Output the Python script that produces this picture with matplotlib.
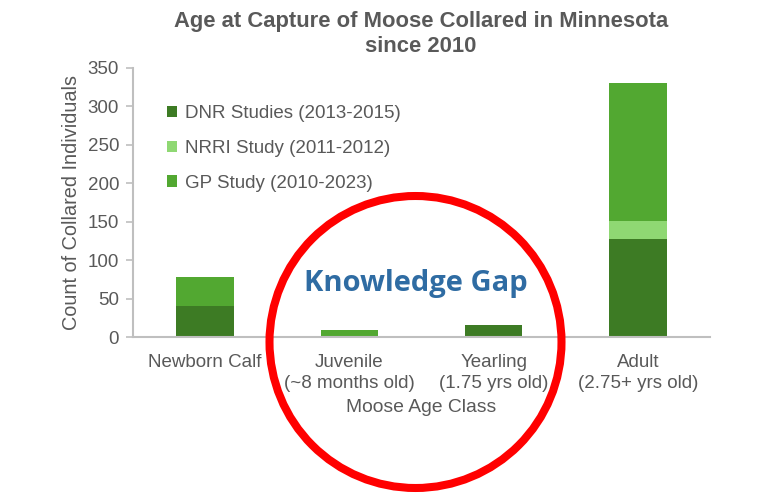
import matplotlib
matplotlib.use("Agg")
import matplotlib.pyplot as plt
from matplotlib.patches import Ellipse
import numpy as np

categories = ["Newborn Calf", "Juvenile\n(~8 months old)", "Yearling\n(1.75 yrs old)", "Adult\n(2.75+ yrs old)"]
dnr = [40, 0, 16, 128]
nrri = [0, 0, 0, 23]
gp = [38, 9, 0, 179]
series_names = ["DNR Studies (2013-2015)", "NRRI Study (2011-2012)", "GP Study (2010-2023)"]
colors = ["#3d7b24", "#8fd873", "#52a831"]
yticks = [0, 50, 100, 150, 200, 250, 300, 350]

plt.rcParams['font.family'] = ['Liberation Sans', 'DejaVu Sans']
gray = "#595959"

fig = plt.figure(figsize=(7.67, 4.95), dpi=100)
ax = fig.add_axes([133/767, 1-337/495, 577/767, 269/495])

x = np.arange(len(categories))
w = 0.4
bottom = np.zeros(len(categories))
for vals, name, c in zip([dnr, nrri, gp], series_names, colors):
    ax.bar(x, vals, w, bottom=bottom, color=c, label=name, zorder=2)
    bottom += np.array(vals)

ax.set_xlim(-0.5, 3.5)
ax.set_ylim(0, 350)
ax.set_yticks(yticks)
ax.set_xticks(x)
ax.set_xticklabels(categories, color=gray, fontsize=13.5, linespacing=1.3)
ax.tick_params(axis='y', colors="#bfbfbf", labelcolor=gray, labelsize=13.5, length=5, width=1.2, direction='out', pad=5)
ax.tick_params(axis='x', length=0, pad=12)
for s in ['top', 'right']:
    ax.spines[s].set_visible(False)
for s in ['left', 'bottom']:
    ax.spines[s].set_color("#bfbfbf")
    ax.spines[s].set_linewidth(1.5)

ax.set_ylabel("Count of Collared Individuals", color=gray, fontsize=14.3, labelpad=5)
ax.set_xlabel("Moose Age Class", color=gray, fontsize=13.9, labelpad=5)

fig.text(421/767, 1-22/495, "Age at Capture of Moose Collared in Minnesota", ha='center', va='center',
         fontsize=15.8, fontweight='bold', color=gray)
fig.text(421/767, 1-47/495, "since 2010", ha='center', va='center',
         fontsize=15.8, fontweight='bold', color=gray)

leg = ax.legend(loc='upper left', bbox_to_anchor=(0.03, 0.925), frameon=False, fontsize=13.5,
                handlelength=0.55, handleheight=0.55, handletextpad=0.4, labelspacing=0.95, labelcolor=gray)

ring = Ellipse((415.5/767, 1-342/495), 292/767, 292/495, transform=fig.transFigure,
               fill=False, edgecolor="#ff0000", linewidth=5.8, zorder=5, clip_on=False)
fig.add_artist(ring)

fig.text(416/767, 1-283/495, "Knowledge Gap", ha='center', va='center', fontsize=21,
         fontweight='bold', color="#2f6ca3", family=['Open Sans', 'DejaVu Sans'], zorder=6)

fig.savefig("out.png", dpi=100)
